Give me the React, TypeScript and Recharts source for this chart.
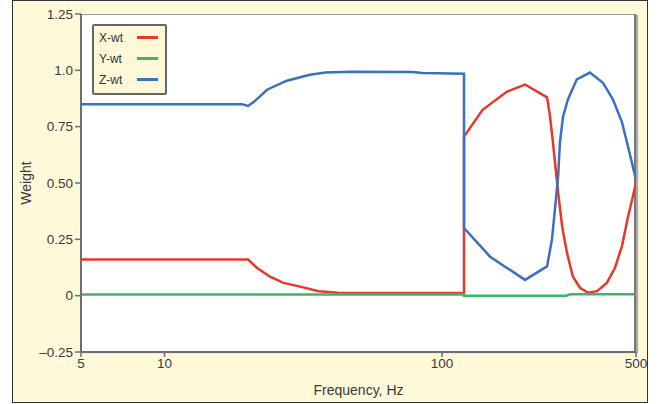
import React from 'react';
import { LineChart, Line, XAxis, YAxis, Label } from 'recharts';

// Frequency (Hz) and weight samples for each axis component
const xFreq = [5, 20, 21.5, 24, 26.7, 30.8, 36, 42, 60, 90, 120, 120, 140, 171, 199, 239, 245, 251, 262, 271, 282, 296, 314, 336, 362, 393, 420, 445, 468, 500];
const xWeight = [0.16, 0.16, 0.124, 0.084, 0.058, 0.04, 0.02, 0.013, 0.012, 0.012, 0.013, 0.706, 0.825, 0.905, 0.937, 0.88, 0.795, 0.68, 0.457, 0.306, 0.19, 0.085, 0.035, 0.013, 0.02, 0.058, 0.124, 0.22, 0.35, 0.5];

const yFreq = [5, 60, 120, 120, 280, 290, 500];
const yWeight = [0.005, 0.005, 0.005, 0.0, 0.0, 0.006, 0.006];

const zFreq = [5, 19, 20, 21, 23.4, 27.6, 33.4, 38, 47, 78, 85, 120, 120, 149, 199, 239, 249, 255, 262, 266, 273, 284, 306, 341, 380, 413, 445, 464, 500];
const zWeight = [0.85, 0.85, 0.842, 0.86, 0.914, 0.954, 0.98, 0.99, 0.994, 0.993, 0.988, 0.985, 0.3, 0.173, 0.07, 0.13, 0.25, 0.38, 0.53, 0.68, 0.795, 0.87, 0.96, 0.99, 0.945, 0.87, 0.77, 0.68, 0.515];

const freqTicks = [5, 10, 100, 500];
const weightTicks = [-0.25, 0, 0.25, 0.5, 0.75, 1.0, 1.25];
const weightTickLabels = ['\u20130.25', '0', '0.25', '0.50', '0.75', '1.0', '1.25'];

const toPoints = (f: number[], w: number[]) => f.map((v, i) => ({ f: v, w: w[i] }));

const series = [
  { name: 'X-wt', color: '#e8382b', data: toPoints(xFreq, xWeight) },
  { name: 'Y-wt', color: '#3cb66a', data: toPoints(yFreq, yWeight) },
  { name: 'Z-wt', color: '#3b6fbf', data: toPoints(zFreq, zWeight) },
];

const font = '"Liberation Sans", Arial, sans-serif';
const tickStyle = { fontSize: 13.5, fill: '#3a3a3a', fontFamily: font };

// Legend box drawn over the top-left corner of the plot
const LegendBox = () => (
  <div
    style={{
      position: 'absolute',
      left: 92,
      top: 24,
      width: 66,
      background: '#fdf8d8',
      border: '2px solid #666',
      borderRadius: 2,
      padding: '1px 0 3px 5px',
      fontFamily: font,
      fontSize: 12,
      color: '#333',
    }}
  >
    {series.map((s) => (
      <div key={s.name} style={{ display: 'flex', alignItems: 'center', height: 21 }}>
        <span style={{ width: 38 }}>{s.name}</span>
        <span style={{ display: 'inline-block', width: 21, height: 2.5, background: s.color }} />
      </div>
    ))}
  </div>
);

const App: React.FC = () => (
  <div style={{ position: 'absolute', left: 0, top: 0, width: 658, height: 404 }}>
    {/* panel background */}
    <div
      style={{
        position: 'absolute',
        left: 12,
        top: 0,
        width: 634,
        height: 401,
        background: '#fef9d9',
        border: '1.5px solid #333',
      }}
    />
    {/* plot area */}
    <div
      style={{
        position: 'absolute',
        left: 81,
        top: 14,
        width: 555,
        height: 338,
        background: '#fff',
        borderTop: '1.5px solid #999',
        borderRight: '2px solid #777',
        boxShadow: '2px 1px 1px #aaa',
        boxSizing: 'border-box',
      }}
    />
    <div style={{ position: 'absolute', left: 0, top: 0 }}>
      <LineChart width={658} height={404} margin={{ top: 14, right: 22, bottom: 12, left: 21 }}>
        <XAxis
          type="number"
          dataKey="f"
          scale="log"
          domain={[5, 500]}
          ticks={freqTicks}
          allowDataOverflow
          height={40}
          tick={tickStyle}
          tickSize={5}
          tickMargin={1}
          axisLine={{ stroke: '#6e6e6e', strokeWidth: 2 }}
          tickLine={{ stroke: '#6e6e6e', strokeWidth: 1.5 }}
        >
          <Label
            value="Frequency, Hz"
            position="insideBottom"
            offset={-3}
            style={{ fontSize: 14, fill: '#3a3a3a', fontFamily: font }}
          />
        </XAxis>
        <YAxis
          type="number"
          domain={[-0.25, 1.25]}
          ticks={weightTicks}
          width={60}
          tick={tickStyle}
          tickSize={6}
          tickMargin={2}
          tickFormatter={(v: number) => weightTickLabels[weightTicks.indexOf(v)] ?? String(v)}
          axisLine={{ stroke: '#6e6e6e', strokeWidth: 2 }}
          tickLine={{ stroke: '#6e6e6e', strokeWidth: 1.5 }}
        >
          <Label
            value="Weight"
            angle={-90}
            position="insideLeft"
            offset={5}
            style={{ fontSize: 14, fill: '#3a3a3a', fontFamily: font, textAnchor: 'middle' }}
          />
        </YAxis>
        {series.map((s) => (
          <Line
            key={s.name}
            name={s.name}
            data={s.data}
            dataKey="w"
            type="linear"
            stroke={s.color}
            strokeWidth={2.5}
            dot={false}
            isAnimationActive={false}
          />
        ))}
      </LineChart>
    </div>
    <LegendBox />
  </div>
);

export default App;
